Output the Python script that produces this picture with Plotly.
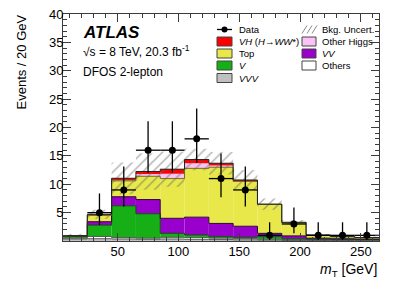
import numpy as np
import plotly.graph_objects as go

# ---------------- data ----------------
bin_centers = [15, 35, 55, 75, 95, 115, 135, 155, 175, 195, 215, 235, 255]
bin_width = 20

vvv         = [0.35, 0.40, 0.35, 0.30, 0.35, 0.30, 0.25, 0.20, 0.15, 0.10, 0.10, 0.10, 0.10]
others      = [0.15, 0.40, 0.25, 0.20, 0.30, 0.30, 0.25, 0.20, 0.15, 0.15, 0.10, 0.10, 0.10]
v_bkg       = [0.30, 2.00, 5.60, 4.30, 0.70, 0.45, 0.25, 0.25, 0.45, 0.15, 0.10, 0.05, 0.05]
vv          = [0.05, 0.60, 1.60, 2.50, 2.65, 3.15, 2.35, 1.95, 0.60, 0.50, 0.20, 0.15, 0.10]
top         = [0.05, 1.10, 2.80, 4.10, 7.00, 8.60, 9.90, 7.90, 5.10, 2.30, 0.50, 0.35, 0.25]
other_higgs = [0.00, 0.05, 0.10, 0.40, 0.85, 0.90, 0.30, 0.05, 0.00, 0.05, 0.00, 0.00, 0.00]
vh_signal   = [0.05, 0.15, 0.35, 0.45, 0.80, 0.65, 0.40, 0.20, 0.05, 0.05, 0.05, 0.02, 0.02]
bkg_uncert  = [0.30, 0.80, 2.80, 3.20, 3.10, 1.90, 2.00, 1.75, 1.00, 0.40, 0.20, 0.15, 0.15]

data_counts = [None, 5, 9, 16, 16, 18, 11, 9, 1, 3, 1, 1, 1]
data_err_up = [None, 3.38, 4.11, 5.10, 5.10, 5.33, 4.42, 4.11, 2.30, 2.92, 2.30, 2.30, 2.30]
data_err_dn = [None, 2.16, 2.94, 3.96, 3.96, 4.21, 3.27, 2.94, 0.83, 1.63, 0.83, 0.83, 0.83]

x_ticks = [50, 100, 150, 200, 250]
y_ticks = [5, 10, 15, 20, 25, 30, 35, 40]

# ---------------- layout helpers ----------------
W, H = 399, 286
L, R, T, B = 63, 20, 14, 45
PW, PH = W - L - R, H - T - B


def px(x):
    return (x - L) / PW


def py(y):
    return (T + PH - y) / PH


FONT = "Liberation Sans, Arial, Helvetica, sans-serif"

components = [
    ("VVV", vvv, "#c0c0c0"),
    ("Others", others, "#ffffff"),
    ("V", v_bkg, "#16b016"),
    ("VV", vv, "#9900cc"),
    ("Top", top, "#e8e84a"),
    ("Other Higgs", other_higgs, "#fbc3f5"),
    ("VH", vh_signal, "#ff0000"),
]

fig = go.Figure()
centers = np.array(bin_centers, dtype=float)
edges = np.concatenate([centers - bin_width / 2, [centers[-1] + bin_width / 2]])
base = np.zeros(len(centers))
levels = []
for name, vals, col in components:
    vals = np.array(vals, dtype=float)
    fig.add_trace(go.Bar(x=centers, y=vals, base=base, width=bin_width,
                         marker=dict(color=col, line=dict(width=0)),
                         showlegend=False, hoverinfo="skip"))
    base = base + vals
    levels.append((name, base.copy()))

total = base.copy()

# step outlines
line_cols = {"VVV": "#555555", "Others": "#555555", "V": "#0b4d0b", "VV": "#2a0040",
             "Top": "#6e6e20", "VH": "#202020"}
for name, lev in levels:
    if name not in line_cols:
        continue
    fig.add_trace(go.Scatter(x=edges, y=np.append(lev, lev[-1]), mode="lines",
                             line=dict(color=line_cols[name], width=1, shape="hv"),
                             showlegend=False, hoverinfo="skip"))

# uncertainty hatch
unc = np.array(bkg_uncert)
fig.add_trace(go.Bar(x=centers, y=2 * unc, base=total - unc, width=bin_width,
                     marker=dict(color="rgba(0,0,0,0)", line=dict(width=0),
                                 pattern=dict(shape="/", fgcolor="#5e5e5e",
                                              bgcolor="rgba(0,0,0,0)", size=7,
                                              solidity=0.2, fillmode="overlay")),
                     showlegend=False, hoverinfo="skip"))

# data
fig.add_trace(go.Scatter(x=centers, y=data_counts, mode="markers",
                         marker=dict(color="black", size=7),
                         error_y=dict(type="data", array=data_err_up, arrayminus=data_err_dn,
                                      symmetric=False, color="black", thickness=1.3, width=0),
                         error_x=dict(type="constant", value=bin_width / 2, color="black",
                                      thickness=1.3, width=0),
                         showlegend=False, hoverinfo="skip"))

axis_common = dict(showline=True, linecolor="#3c3c3c", linewidth=1, mirror="allticks",
                   ticks="inside", ticklen=8, tickwidth=1, tickcolor="#3c3c3c",
                   showgrid=False, zeroline=False, automargin=False,
                   tickfont=dict(family=FONT, size=13, color="black"))

fig.update_layout(
    width=W, height=H, margin=dict(l=L, r=R, t=T, b=B, autoexpand=False),
    paper_bgcolor="white", plot_bgcolor="white", barmode="overlay",
    font=dict(family=FONT, color="black"),
    xaxis=dict(range=[edges[0], edges[-1]], tickmode="array", tickvals=x_ticks,
               ticklabelstandoff=-2,
               minor=dict(ticks="inside", ticklen=4, tickcolor="#3c3c3c", dtick=10, tick0=0),
               **axis_common),
    yaxis=dict(range=[0, 40], tickmode="array", tickvals=y_ticks,
               ticklabelstandoff=-4,
               minor=dict(ticks="inside", ticklen=4, tickcolor="#3c3c3c", dtick=1, tick0=0),
               **axis_common),
    showlegend=False,
)

ann = []
ann.append(dict(text="Events / 20 GeV", textangle=-90, x=px(21), y=py(13), xref="paper",
                yref="paper", xanchor="center", yanchor="top", showarrow=False,
                font=dict(size=13)))
ann.append(dict(text="<i>m</i><sub>T</sub> [GeV]", x=px(379), y=py(270), xref="paper",
                yref="paper", xanchor="right", yanchor="middle", showarrow=False,
                font=dict(size=14)))
ann.append(dict(text="<b><i>ATLAS</i></b>", x=px(81), y=py(32.5), xref="paper", yref="paper",
                xanchor="left", yanchor="middle", showarrow=False, font=dict(size=17)))
ann.append(dict(text="\u221As = 8 TeV, 20.3 fb<sup>-1</sup>", x=px(81), y=py(51.5),
                xref="paper", yref="paper", xanchor="left", yanchor="middle",
                showarrow=False, font=dict(size=12)))
ann.append(dict(text="DFOS 2-lepton", x=px(81), y=py(71.5), xref="paper", yref="paper",
                xanchor="left", yanchor="middle", showarrow=False, font=dict(size=12)))

shapes = []
LEG_FS = 9.5
col1_box, col1_txt = (217, 232), 237
col2_box, col2_txt = (302, 316), 320
rows = [29.5, 41.5, 53.5, 65.5, 78]

legend_col1 = [("Data", None), ("<i>VH</i> (<i>H</i>\u2192<i>WW</i>*)", "VH"), ("Top", "Top"),
               ("<i>V</i>", "V"), ("<i>VVV</i>", "VVV")]
legend_col2 = [("Bkg. Uncert.", "unc"), ("Other Higgs", "Other Higgs"), ("<i>VV</i>", "VV"),
               ("Others", "Others")]
colors = {n: c for n, _, c in components}


def add_entry(label, key, bx, tx, yc):
    if key is None:
        shapes.append(dict(type="line", xref="paper", yref="paper", x0=px(bx[0]), x1=px(bx[1]),
                           y0=py(yc), y1=py(yc), line=dict(color="black", width=1.3)))
        xc = (bx[0] + bx[1]) / 2
        shapes.append(dict(type="circle", xref="paper", yref="paper", x0=px(xc - 3),
                           x1=px(xc + 3), y0=py(yc - 3), y1=py(yc + 3),
                           fillcolor="black", line=dict(color="black", width=0)))
    elif key == "unc":
        for dx in (0, 5, 10):
            shapes.append(dict(type="line", xref="paper", yref="paper",
                               x0=px(bx[0] + dx), x1=px(bx[0] + dx + 5),
                               y0=py(yc + 4), y1=py(yc - 4),
                               line=dict(color="#8a8a8a", width=1)))
    else:
        shapes.append(dict(type="rect", xref="paper", yref="paper", x0=px(bx[0]), x1=px(bx[1]),
                           y0=py(yc - 4.5), y1=py(yc + 4.5), fillcolor=colors[key],
                           line=dict(color="#444444", width=1)))
    ann.append(dict(text=label, x=px(tx), y=py(yc), xref="paper", yref="paper",
                    xanchor="left", yanchor="middle", showarrow=False,
                    font=dict(size=LEG_FS)))


for (lab, key), yc in zip(legend_col1, rows):
    add_entry(lab, key, col1_box, col1_txt, yc)
for (lab, key), yc in zip(legend_col2, rows):
    add_entry(lab, key, col2_box, col2_txt, yc)

fig.update_layout(annotations=ann, shapes=shapes)
fig.write_html("out.html", config={"displayModeBar": False, "staticPlot": True},
               post_script="document.body.style.margin='0px';")
